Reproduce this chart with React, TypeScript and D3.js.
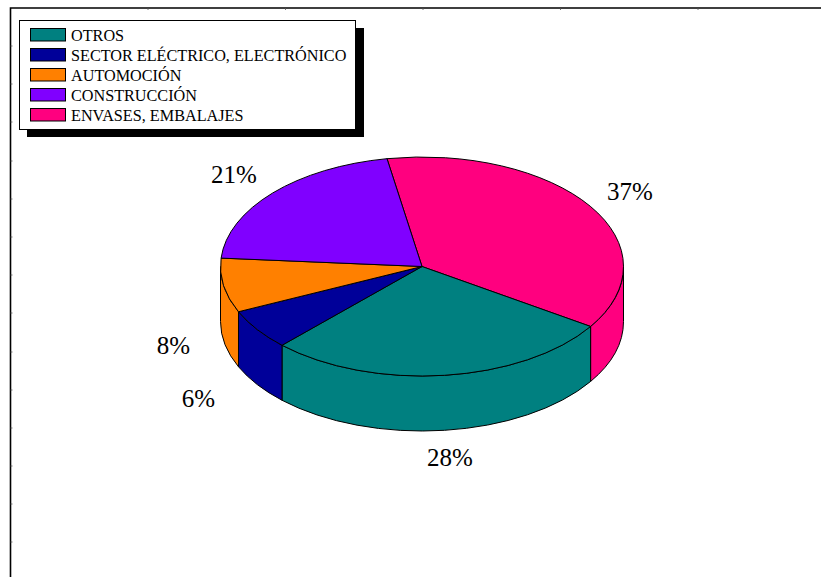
import React from "react";
import * as d3 from "d3";

// Market share by sector, clockwise from the back of the disc
const sectors = ["ENVASES, EMBALAJES", "OTROS", "SECTOR ELÉCTRICO, ELECTRÓNICO", "AUTOMOCIÓN", "CONSTRUCCIÓN"];
const shares = [37, 28, 6, 8, 21];
const colors = ["#ff007f", "#008080", "#000099", "#ff8000", "#8000ff"];
const legendOrder = ["OTROS", "SECTOR ELÉCTRICO, ELECTRÓNICO", "AUTOMOCIÓN", "CONSTRUCCIÓN", "ENVASES, EMBALAJES"];
const labelPositions = [
  [630, 192],
  [450, 458],
  [198.5, 398.5],
  [173.5, 346],
  [234, 175],
];
const topTicks = [148, 285.5, 423, 560.5, 698];
const leftTicks = [46, 84, 122, 161, 199, 237, 275, 313, 352, 390, 428, 466, 504, 542];

const cx = 422;
const cy = 266.5;
const rx = 201.5;
const ry = 109.5;
const depth = 55;
const start = (-10 * Math.PI) / 180;

const color = d3.scaleOrdinal<string, string>().domain(sectors).range(colors);
const pie = d3
  .pie<number>()
  .sort(null)
  .startAngle(start)
  .endAngle(start + 2 * Math.PI);
const slices = pie(shares);

// Angles run clockwise from the top of the ellipse
const pt = (a: number, dy = 0): [number, number] => [cx + rx * Math.sin(a), cy - ry * Math.cos(a) + dy];

const arcTo = (a0: number, a1: number, dy = 0) => {
  const [x, y] = pt(a1, dy);
  const large = Math.abs(a1 - a0) > Math.PI ? 1 : 0;
  const sweep = a1 > a0 ? 1 : 0;
  return `A${rx},${ry} 0 ${large} ${sweep} ${x},${y}`;
};

const topPath = (a0: number, a1: number) => {
  const [x0, y0] = pt(a0);
  return `M${cx},${cy}L${x0},${y0}${arcTo(a0, a1)}Z`;
};

// Only the front half of the rim (quarter to three-quarter turn) is visible
const wallPath = (a0: number, a1: number) => {
  const from = Math.max(a0, Math.PI / 2);
  const to = Math.min(a1, (3 * Math.PI) / 2);
  if (to <= from) return null;
  const [x0, y0] = pt(from);
  const [x1, y1] = pt(to, depth);
  return `M${x0},${y0}${arcTo(from, to)}L${x1},${y1}${arcTo(to, from, depth)}Z`;
};

export default function App() {
  return (
    <svg width={821} height={577} style={{ position: "absolute", left: 0, top: 0 }} fontFamily="'Liberation Serif', serif">
      <rect width={821} height={577} fill="#fff" />
      {/* Frame with its tick marks */}
      <path d="M10.5,577V8H821" fill="none" stroke="#000" strokeWidth={1.6} />
      {topTicks.map((x) => (
        <line key={x} x1={x} x2={x} y1={8} y2={10} stroke="#555" strokeWidth={0.8} />
      ))}
      {leftTicks.map((y) => (
        <line key={y} x1={10.5} x2={12.5} y1={y} y2={y} stroke="#555" strokeWidth={0.8} />
      ))}

      {/* Disc rim, then the top face */}
      {slices.map((s, i) => {
        const d = wallPath(s.startAngle, s.endAngle);
        return d ? <path key={i} d={d} fill={color(sectors[i])} stroke="#000" strokeWidth={1} strokeLinejoin="round" /> : null;
      })}
      {slices.map((s, i) => (
        <path key={i} d={topPath(s.startAngle, s.endAngle)} fill={color(sectors[i])} stroke="#000" strokeWidth={1} strokeLinejoin="round" />
      ))}

      {shares.map((v, i) => (
        <text key={i} x={labelPositions[i][0]} y={labelPositions[i][1] + 8} fontSize={25} textAnchor="middle" fill="#000">
          {v}%
        </text>
      ))}

      {/* Legend box with its drop shadow */}
      <rect x={27} y={28} width={337} height={109} fill="#000" />
      <rect x={19.5} y={20.5} width={336} height={109} fill="#fff" stroke="#000" strokeWidth={1} />
      {legendOrder.map((name, i) => (
        <g key={name}>
          <rect x={30.5} y={28.5 + i * 20} width={35} height={12.5} fill={color(name)} stroke="#000" strokeWidth={1} />
          <text x={71} y={40.5 + i * 20} fontSize={16.2} fill="#000">
            {name}
          </text>
        </g>
      ))}
    </svg>
  );
}
